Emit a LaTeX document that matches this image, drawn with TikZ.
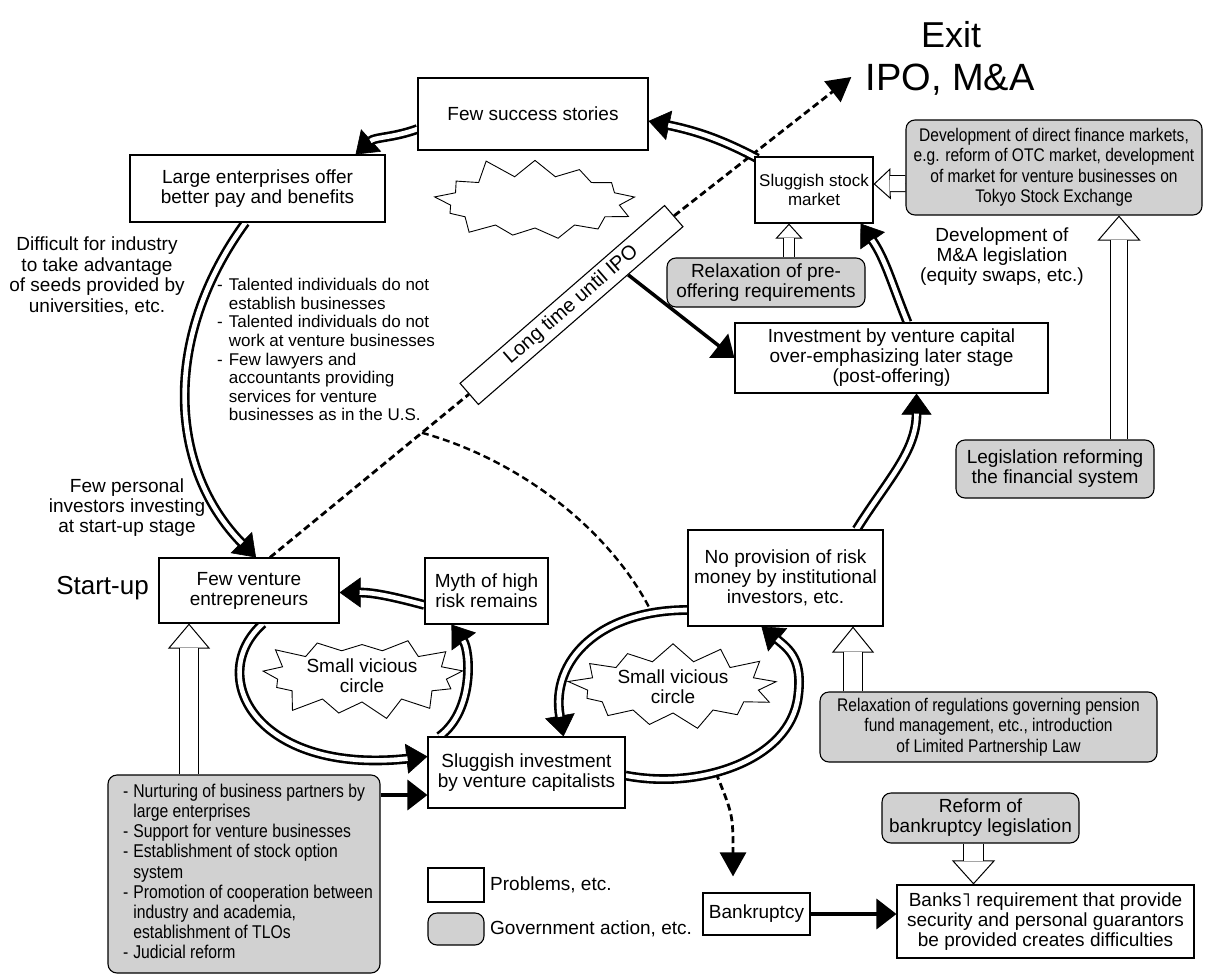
\documentclass[tikz,border=0pt]{standalone}
\usepackage{fontspec}
\setmainfont{Liberation Sans}
\newfontfamily\condfont[FakeStretch=0.85]{Liberation Sans}
\newfontfamily\djvfont{DejaVu Sans}
\usetikzlibrary{arrows.meta,shapes.symbols,calc}
\pgfdeclarelayer{bg}
\pgfsetlayers{bg,main}
\newcommand\cycarrow[1]{%
  \draw[line width=0.6pt,-{Triangle[length=21pt,width=30pt]}] #1;
  \draw[line width=2.6pt,double=white,double distance=4.6pt,shorten >=20pt] #1;}
\newcommand\hollowarrow[5]{%
  \draw[line width=1pt,-{Triangle[length=#4,width=#3,fill=white]}] #1;
  \draw[line width=1pt,double=white,double distance=#2,shorten >=#5] #1;}
\tikzset{
  fnt/.style={font=\fontsize{19}{20}\selectfont},
  sz/.style 2 args={minimum width=#1pt,minimum height=#2pt},
  prob/.style={draw,line width=1.1pt,fill=white,inner sep=0pt,align=center,fnt},
  gov/.style={draw,line width=1.1pt,rounded corners=9pt,fill=black!18,inner sep=0pt,align=center,fnt},
  govc/.style={gov,font=\condfont\fontsize{18.3}{20.5}\selectfont},
  lbl/.style={inner sep=0pt,align=center,fnt},
  burst/.style={starburst,draw,line width=0.9pt,fill=white,starburst points=13,starburst point height=21pt,inner sep=0pt,align=center,fnt},
  solidarrow/.style={line width=3.5pt,-{Triangle[length=20pt,width=30pt]}},
  dashline/.style={line width=2.8pt,dash pattern=on 7pt off 4pt},
}
\begin{document}
\begin{tikzpicture}[x=1pt,y=1pt]
\useasboundingbox (0,0) rectangle (1210,-974);
\begin{pgfonlayer}{bg}\fill[white] (0,0) rectangle (1210,-974);\end{pgfonlayer}

% problems
\node[prob,sz={230}{72}] (fs) at (533,-114) {Few success stories};
\node[prob,sz={255}{67}] (le) at (257.5,-188.5) {Large enterprises offer\\better pay and benefits};
\node[prob,sz={118}{66},font=\fontsize{17}{19}\selectfont] (ssm) at (814,-190) {Sluggish stock\\market};
\node[prob,sz={313}{70}] (ivc) at (891.5,-358) {Investment by venture capital\\over-emphasizing later stage\\(post-offering)};
\node[prob,rotate=41,sz={271}{28},font=\fontsize{20}{20}\selectfont] (lt) at (571.5,-305) {Long time until IPO};
\node[prob,sz={180}{65}] (fv) at (249,-590.5) {Few venture\\entrepreneurs};
\node[prob,sz={123}{66}] (myth) at (486.5,-591) {Myth of high\\risk remains};
\node[prob,sz={195}{96}] (npr) at (785.5,-578) {No provision of risk\\money by institutional\\investors, etc.};
\node[prob,sz={197}{71}] (svc) at (526.5,-772.5) {Sluggish investment\\by venture capitalists};
\node[prob,sz={107}{42}] (bk) at (756.5,-914) {Bankruptcy};
\node[prob,sz={297}{73}] (banks) at (1045.5,-921.5) {Banks{\djvfont ˥} requirement that provide\\security and personal guarantors\\be provided creates difficulties};

% government actions
\node[govc,sz={296}{95}] (ddf) at (1054,-167.5) {Development of direct finance markets,\\e.g. reform of OTC market, development\\of market for venture businesses on\\Tokyo Stock Exchange};
\node[gov,sz={198}{49}] (rpo) at (766,-282.5) {Relaxation of pre-\\offering requirements};
\node[gov,sz={198}{58}] (lrf) at (1055,-469) {Legislation reforming\\the financial system};
\node[govc,sz={337}{70}] (rpf) at (988.5,-727) {Relaxation of regulations governing pension\\fund management, etc., introduction\\of Limited Partnership Law};
\node[gov,sz={197}{50}] (rbl) at (980.5,-818) {Reform of\\bankruptcy legislation};
\node[govc,sz={272}{198},font=\condfont\fontsize{18.5}{20.2}\selectfont] (glb) at (244,-874) {\begin{tabular}{@{\hspace{8pt}}l@{\hspace{5pt}}l@{}}
-&Nurturing of business partners by\\
&large enterprises\\
-&Support for venture businesses\\
-&Establishment of stock option\\
&system\\
-&Promotion of cooperation between\\
&industry and academia,\\
&establishment of TLOs\\
-&Judicial reform\end{tabular}};

% legend
\node[prob,sz={56}{34}] (lp) at (456,-885) {};
\node[gov,sz={56}{32}] (lg) at (456,-929) {};
\node[lbl,anchor=west] (lpt) at (490,-885) {Problems, etc.};
\node[lbl,anchor=west] (lgt) at (490,-929) {Government action, etc.};

% free labels
\node[lbl] (mna) at (1002,-257) {Development of\\M\&A legislation\\(equity swaps, etc.)};
\node[lbl,anchor=east,font=\fontsize{26}{26}\selectfont] (su) at (149,-588) {Start-up};
\node[lbl,font=\fontsize{19}{20.5}\selectfont] (dif) at (97,-276) {Difficult for industry\\to take advantage\\of seeds provided by\\universities, etc.};
\node[lbl] (fpi) at (127,-508) {Few personal\\investors investing\\at start-up stage};
\node[anchor=west,inner sep=0pt,font=\fontsize{17}{18.6}\selectfont] (tal) at (217,-352) {\begin{tabular}{@{}l@{\hspace{6pt}}l@{}}
-&Talented individuals do not\\
&establish businesses\\
-&Talented individuals do not\\
&work at venture businesses\\
-&Few lawyers and\\
&accountants providing\\
&services for venture\\
&businesses as in the U.S.\end{tabular}};
\node[lbl,font=\fontsize{36}{36}\selectfont] (exit) at (951,-35) {Exit};
\node[lbl,font=\fontsize{38}{38}\selectfont] (ipo) at (950,-80) {IPO, M\&A};

% bursts
\node[burst,random starburst=11,minimum width=212pt,minimum height=94pt] (b1) at (535,-202) {};
\node[burst,random starburst=23,minimum width=212pt,minimum height=94pt] (b2) at (362,-676) {Small vicious\\circle};
\node[burst,random starburst=37,minimum width=214pt,minimum height=94pt] (b3) at (673,-687) {Small vicious\\circle};

\begin{pgfonlayer}{bg}
\coordinate (ds) at ($(fv.north)+(21,0)$);
\coordinate (gt) at (651,-611);
\coordinate (hb) at (716,-773);
% dashed
\draw[dashline] (ds) -- (lt.west);
\draw[dashline,-{Triangle[length=24pt,width=26pt]}] (lt.east) -- ($(ipo.west)+(-14,3)$);
\draw[dashline,line width=2.4pt] ($(ds)!0.764!(lt.west)$) .. controls (520,-460) and (610,-530) .. (gt);
\draw[dashline,-{Triangle[length=24pt,width=26pt]}] (hb) .. controls (733,-815) .. ($(bk.north)+(-23.5,16)$);
% solid
\draw[solidarrow] ($(lt.south)!0.46!(lt.south east)$) -- (ivc.west);
\draw[solidarrow] ($(glb.east)+(0,79)$) -- ($(svc.west)+(0,-22.5)$);
\draw[solidarrow] (bk.east) -- ($(banks.west)+(0,7.5)$);
% hollow
\hollowarrow{($(lrf.north)+(64,0)$) -- ($(ddf.south)+(65,0)$)}{16pt}{43pt}{25pt}{24.4pt}
\hollowarrow{($(rpo.north)+(23,0)$) -- ($(ssm.south)+(-25,0)$)}{10pt}{27pt}{15pt}{14.4pt}
\hollowarrow{($(ddf.west)+(0,-16)$) -- ($(ssm.east)+(0,6)$)}{15pt}{31pt}{17pt}{16.4pt}
\hollowarrow{($(rpf.north)+(-135.5,0)$) -- ($(npr.south)+(67.5,0)$)}{18pt}{42pt}{26pt}{25.4pt}
\hollowarrow{($(glb.north)+(-55,0)$) -- ($(fv.south)+(-60,0)$)}{18pt}{42pt}{25pt}{24.4pt}
\hollowarrow{($(rbl.south)+(-7,0)$) -- ($(banks.north)+(-72,0)$)}{19pt}{43pt}{24pt}{23.4pt}
% cycle arrows
\cycarrow{($(ssm.north west)+(3,-2)$) to[out=152,in=-12] ($(fs.east)+(0,-7)$)}
\cycarrow{($(fs.west)+(0,-15)$) to[out=200,in=42] ($(le.north east)+(-30,0)$)}
\cycarrow{($(le.south)+(-12,0)$) .. controls (160,-340) and (170,-470) .. ($(fv.north)+(7,0)$)}
\cycarrow{($(fv.south)+(14,0)$) .. controls (205,-675) and (255,-775) .. ($(svc.west)+(0,16)$)}
\cycarrow{($(svc.north west)+(12,0)$) .. controls (475,-710) and (470,-650) .. ($(myth.south west)+(27,0)$)}
\cycarrow{($(myth.west)+(0,-14)$) to[out=165,in=0] ($(fv.east)+(0,-2)$)}
\cycarrow{($(npr.west)+(0,-32)$) .. controls (600,-610) and (550,-660) .. ($(svc.north)+(37,0)$)}
\cycarrow{($(svc.east)+(0,-3)$) .. controls (700,-790) and (790,-760) .. (798,-697) .. controls (803,-660) and (790,-650) .. ($(npr.south west)+(74,0)$)}
\cycarrow{($(npr.north)+(71,0)$) to[out=58,in=-90] ($(ivc.south)+(25,0)$)}
\cycarrow{($(ivc.north)+(16,0)$) to[out=112,in=-55] ($(ssm.south east)+(-13,0)$)}
\end{pgfonlayer}
\end{tikzpicture}
\end{document}
